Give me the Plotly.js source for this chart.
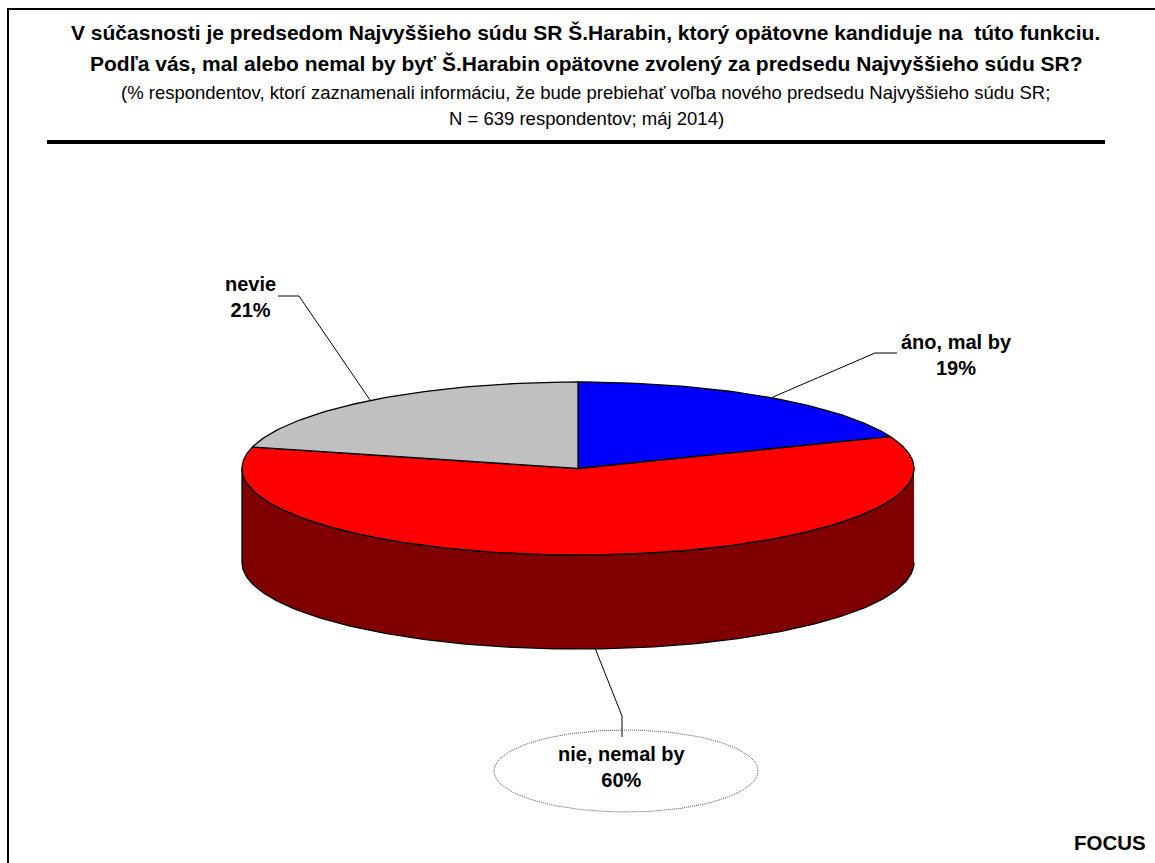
<!DOCTYPE html>
<html><head><meta charset="utf-8">
<script src="https://cdn.plot.ly/plotly-3.0.1.min.js"></script>
<style>html,body{margin:0;padding:0;background:#fff}#c{width:1155px;height:863px}</style>
</head><body><div id="c"></div>
<script>
const categories = ["áno, mal by", "nie, nemal by", "nevie"];
const values = [19, 60, 21];
const sliceColors = ["#0000ff", "#ff0000", "#c0c0c0"];
const sideColor = "#800000";
const titleLines = [
 "<b>V súčasnosti je predsedom Najvyššieho súdu SR Š.Harabin, ktorý opätovne kandiduje na  túto funkciu.</b>",
 "<b>Podľa vás, mal alebo nemal by byť Š.Harabin opätovne zvolený za predsedu Najvyššieho súdu SR?</b>",
 "(% respondentov, ktorí zaznamenali informáciu, že bude prebiehať voľba nového predsedu Najvyššieho súdu SR;",
 "N = 639 respondentov; máj 2014)"
];
const cx=578, cy=468.5, rx=336, ry=86.5, depth=94;
const total=values.reduce((a,b)=>a+b,0);
const pt=(deg,dy=0)=>{const t=deg*Math.PI/180;return [cx+rx*Math.sin(t), cy-ry*Math.cos(t)+dy];};
const arc=(a,b,dy=0)=>{const n=Math.max(2,Math.ceil(Math.abs(b-a)));const o=[];for(let i=0;i<=n;i++)o.push(pt(a+(b-a)*i/n,dy));return o;};
const traces=[];
const poly=(pts,fill,w)=>traces.push({type:"scatter",mode:"lines",x:pts.map(p=>p[0]),y:pts.map(p=>p[1]),fill:"toself",fillcolor:fill,line:{color:"#000",width:w===undefined?1.3:w},hoverinfo:"skip",showlegend:false});
const open=(pts,w,c)=>traces.push({type:"scatter",mode:"lines",x:pts.map(p=>p[0]),y:pts.map(p=>p[1]),line:{color:c||"#000",width:w},hoverinfo:"skip",showlegend:false});
poly(arc(90,270).concat(arc(270,90,depth)),sideColor);
let start=0;
values.forEach((v,i)=>{const end=start+v/total*360;poly([[cx,cy]].concat(arc(start,end)).concat([[cx,cy]]),sliceColors[i]);start=end;});
open([[773,397],[875,353],[897,353]],1);
open([[370,400],[299,296],[278,296]],1);
open([[595,648],[622,716],[622,737]],1);
const ell=[];for(let d=0;d<=360;d+=3){const t=d*Math.PI/180;ell.push([626+132*Math.cos(t),771+41*Math.sin(t)]);}
traces.push({type:"scatter",mode:"lines",x:ell.map(p=>p[0]),y:ell.map(p=>p[1]),line:{color:"#555",width:1,dash:"1px,1px"},hoverinfo:"skip",showlegend:false});
const lab=(x,y,t,s,anchor)=>({x,y,xref:"x",yref:"y",text:t,showarrow:false,xanchor:anchor||"center",yanchor:"middle",font:{family:"Liberation Sans, Arial, sans-serif",size:s,color:"#000"}});
const ann=[
 lab(585,32,titleLines[0],21),
 lab(586,63,titleLines[1],21),
 lab(585,92,titleLines[2],18.5),
 lab(586,118,titleLines[3],18.5),
 lab(956,355,"<b>"+categories[0]+"<br>"+values[0]+"%</b>",20),
 lab(250,297,"<b>nevie<br>"+values[2]+"%</b>",20),
 lab(622,767,"<b>"+categories[1]+"<br>"+values[1]+"%</b>",20),
 lab(1148,842,"<b>FOCUS</b>",20.5,"right")
];
const line=(x0,y0,x1,y1,w)=>({type:"line",xref:"x",yref:"y",x0,y0,x1,y1,line:{color:"#000",width:w}});
const shapes=[ line(7,9,1155,9,2), line(8,8,8,863,2), line(47,142,1105,142,4) ];
Plotly.newPlot("c",traces,{
 width:1155,height:863,margin:{l:0,r:0,t:0,b:0},paper_bgcolor:"#fff",plot_bgcolor:"#fff",
 xaxis:{range:[0,1155],visible:false,fixedrange:true},
 yaxis:{range:[863,0],visible:false,fixedrange:true},
 showlegend:false,annotations:ann,shapes:shapes
},{displayModeBar:false,staticPlot:true});
</script></body></html>
